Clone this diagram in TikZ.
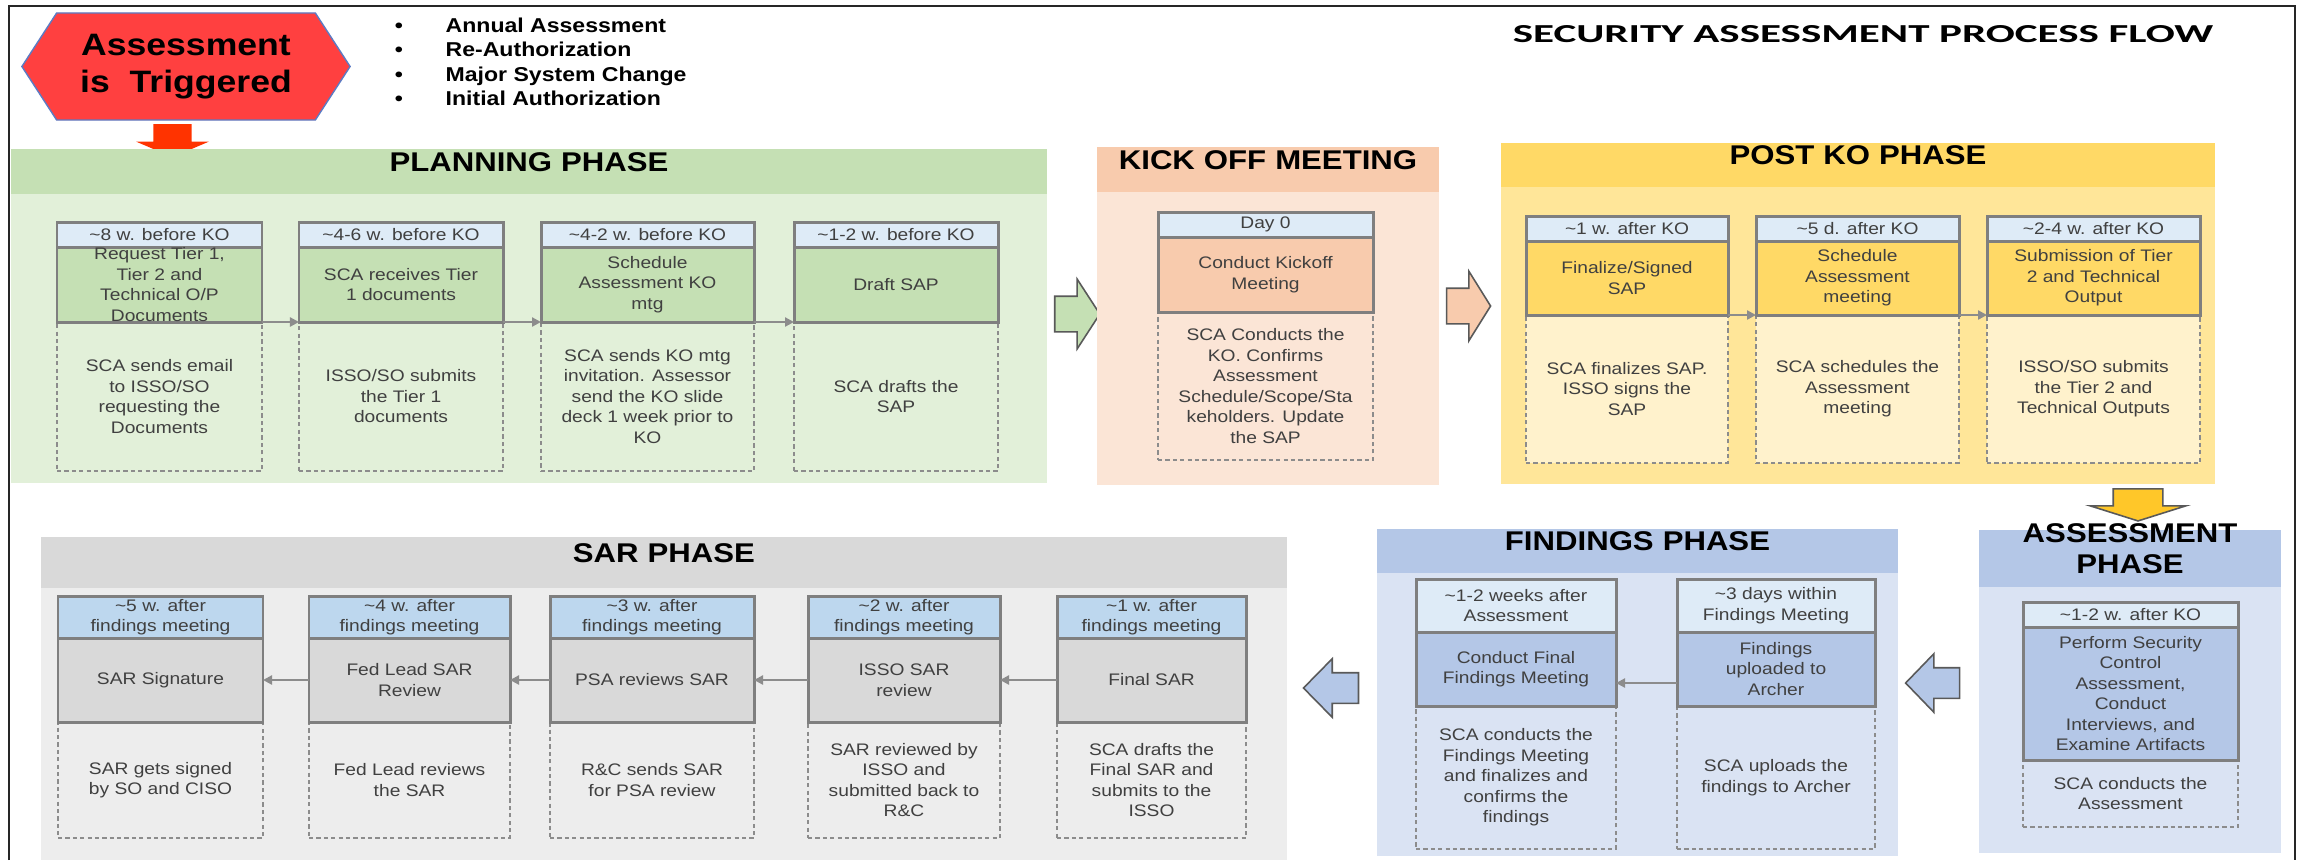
\documentclass[tikz,border=0pt]{standalone}
\usepackage{fontspec}
\usepackage{graphicx}
\setmainfont{Liberation Sans}[FakeStretch=1.15]
\newfontfamily\titlefam{Carlito}
\usetikzlibrary{fit,shapes.arrows,shapes.symbols,arrows.meta}

\definecolor{plhead}{HTML}{C5E0B4}
\definecolor{plbody}{HTML}{E2F0D9}
\definecolor{kohead}{HTML}{F8CBAD}
\definecolor{kobody}{HTML}{FBE5D6}
\definecolor{pkhead}{HTML}{FFD966}
\definecolor{pkbody}{HTML}{FFE699}
\definecolor{pkdsc}{HTML}{FFF2CC}
\definecolor{fnhead}{HTML}{B4C7E7}
\definecolor{fnbody}{HTML}{DAE3F3}
\definecolor{sahead}{HTML}{D9D9D9}
\definecolor{sabody}{HTML}{EDEDED}
\definecolor{lblight}{HTML}{DEEBF7}
\definecolor{lblsar}{HTML}{BDD7EE}
\definecolor{boxgray}{HTML}{7F7F7F}
\definecolor{dashgray}{HTML}{8C8C8C}
\definecolor{txtgray}{HTML}{404040}
\definecolor{conngray}{HTML}{8C8C8C}
\definecolor{arrowgray}{HTML}{595959}
\definecolor{hexred}{HTML}{FF4040}
\definecolor{hexblue}{HTML}{5B7BC4}
\definecolor{redarrow}{HTML}{FF3300}
\definecolor{yelarrow}{HTML}{FFC729}
\definecolor{framec}{HTML}{262626}

\newcommand{\boxfont}{\fontsize{4.75pt}{5.83pt}\selectfont}
\newcommand{\hdrfont}{\bfseries\fontsize{7.7pt}{8.8pt}\selectfont}
\newcommand{\hexfont}{\bfseries\fontsize{8.8pt}{10.5pt}\selectfont}
\newcommand{\bulfont}{\bfseries\fontsize{5.7pt}{6.9pt}\selectfont}
\newcommand{\tl}{\textasciitilde}

\tikzset{
  panel/.style={inner sep=0pt, outer sep=0pt},
  hdrtxt/.style={font=\hdrfont, align=center, text=black},
  lblbox/.style={draw=boxgray, line width=0.85pt, inner sep=0pt, outer sep=0pt},
  ttlbox/.style={draw=boxgray, line width=0.85pt, inner sep=0pt, outer sep=0pt},
  dscbox/.style={draw=dashgray, line width=0.4pt, dash pattern=on 1.2pt off 0.9pt, inner sep=0pt, outer sep=0pt},
  boxtxt/.style={align=center, text=txtgray, font=\boxfont, inner sep=0pt},
  blockarrow/.style={single arrow, draw=arrowgray, line width=0.45pt, inner xsep=0pt},
  conn/.style={draw=conngray, line width=0.7pt, -{Triangle[length=0.09cm,width=0.09cm]}},
  bul/.style={font=\bulfont, inner sep=0pt, text=black},
}

\newcommand{\setrows}[4]{\def\rya{#1}\def\ryb{#2}\def\ryc{#3}\def\ryd{#4}}
\newcommand{\stepbox}[6]{%
  \node[dscbox, fill=dscc, fit={(#2,\ryc) (#3,\ryd)}] (#1d) {};
  \node[lblbox, fill=lblc, fit={(#2,\rya) (#3,\ryb)}] (#1l) {};
  \node[ttlbox, fill=ttlc, fit={(#2,\ryb) (#3,\ryc)}] (#1t) {};
  \node[boxtxt] (#1lx) at (#1l.center) {#4};
  \node[boxtxt] (#1tx) at (#1t.center) {#5};
  \node[boxtxt] (#1dx) at (#1d.center) {#6};
}

\begin{document}
\begin{tikzpicture}[x=0.01cm, y=-0.01cm]
\useasboundingbox (0,0) rectangle (2303,860);
\fill[white] (0,0) rectangle (2303,860);
\draw[framec, line width=0.6pt] (9,860) -- (9,6) -- (2295,6) -- (2295,860);

% trigger
\node[signal, signal to=east and west, signal pointer angle=114, minimum width=3.28cm, minimum height=1.07cm, inner sep=0pt, fill=hexred, draw=hexblue, line width=0.4pt] (trig) at (186,66.5) {};
\node[font=\hexfont, align=center, inner sep=0pt] (trigtx) at (trig.center) {Assessment\\is\ \ Triggered};
\node[single arrow, rotate=270, fill=redarrow, inner xsep=0pt, inner ysep=0.185cm, minimum height=0.33cm, single arrow head extend=0.17cm, single arrow tip angle=134] (trigarr) at (172.5,136.5) {};

% bullets
\node[bul, anchor=base] (bu1) at (399,32) {\textbullet};
\node[bul, anchor=base west] (bt1) at (445,32) {Annual Assessment};
\node[bul, anchor=base] (bu2) at (399,56.5) {\textbullet};
\node[bul, anchor=base west] (bt2) at (445,56.5) {Re-Authorization};
\node[bul, anchor=base] (bu3) at (399,81) {\textbullet};
\node[bul, anchor=base west] (bt3) at (445,81) {Major System Change};
\node[bul, anchor=base] (bu4) at (399,105.5) {\textbullet};
\node[bul, anchor=base west] (bt4) at (445,105.5) {Initial Authorization};

% title
\node[anchor=base, inner sep=0pt] (title) at (1863,42) {\resizebox{7cm}{0.17cm}{\titlefam\bfseries SECURITY ASSESSMENT PROCESS FLOW}};

% ---------- PLANNING ----------
\node[panel, fill=plbody, fit={(11,149) (1047,483)}] (plan) {};
\node[panel, fill=plhead, fit={(11,149) (1047,194)}, hdrtxt] (planh) {PLANNING PHASE};
\colorlet{lblc}{lblight}\colorlet{ttlc}{plhead}\colorlet{dscc}{plbody}
\setrows{222}{247}{322}{471}
\stepbox{pa}{57}{262}{\tl 8 w. before KO}{Request Tier 1,\\Tier 2 and\\Technical O/P\\Documents}{SCA sends email\\to ISSO/SO\\requesting the\\Documents}
\stepbox{pb}{299}{503}{\tl 4-6 w. before KO}{SCA receives Tier\\1 documents}{ISSO/SO submits\\the Tier 1\\documents}
\stepbox{pc}{541}{754}{\tl 4-2 w. before KO}{Schedule\\Assessment KO\\mtg}{SCA sends KO mtg\\invitation. Assessor\\send the KO slide\\deck 1 week prior to\\KO}
\stepbox{pd}{794}{998}{\tl 1-2 w. before KO}{Draft SAP}{SCA drafts the\\SAP}
\draw[conn] (pat.south east) -- (pbt.south west);
\draw[conn] (pbt.south east) -- (pct.south west);
\draw[conn] (pct.south east) -- (pdt.south west);

\node[blockarrow, fill=plhead, inner ysep=0.17cm, minimum height=0.45cm, single arrow head extend=0.17cm, single arrow tip angle=114] (arr1) at (1071.5,314) {};

% ---------- KICK OFF ----------
\node[panel, fill=kobody, fit={(1097,147) (1439,485)}] (kick) {};
\node[panel, fill=kohead, fit={(1097,147) (1439,192)}, hdrtxt] (kickh) {KICK OFF MEETING};
\colorlet{lblc}{lblight}\colorlet{ttlc}{kohead}\colorlet{dscc}{kobody}
\setrows{212}{237}{312}{460}
\stepbox{ka}{1158}{1373}{Day 0}{Conduct Kickoff\\Meeting}{SCA Conducts the\\KO. Confirms\\Assessment\\Schedule/Scope/Sta\\keholders. Update\\the SAP}

\node[blockarrow, fill=kohead, inner ysep=0.17cm, minimum height=0.44cm, single arrow head extend=0.17cm, single arrow tip angle=116] (arr2) at (1463,306) {};

% ---------- POST KO ----------
\node[panel, fill=pkbody, fit={(1501,143) (2215,484)}] (post) {};
\node[panel, fill=pkhead, fit={(1501,143) (2215,187)}, hdrtxt] (posth) {POST KO PHASE};
\colorlet{lblc}{lblight}\colorlet{ttlc}{pkhead}\colorlet{dscc}{pkdsc}
\setrows{216}{241}{315}{463}
\stepbox{qa}{1526}{1728}{\tl 1 w. after KO}{Finalize/Signed\\SAP}{SCA finalizes SAP.\\ISSO signs the\\SAP}
\stepbox{qb}{1756}{1959}{\tl 5 d. after KO}{Schedule\\Assessment\\meeting}{SCA schedules the\\Assessment\\meeting}
\stepbox{qc}{1987}{2200}{\tl 2-4 w. after KO}{Submission of Tier\\2 and Technical\\Output}{ISSO/SO submits\\the Tier 2 and\\Technical Outputs}
\draw[conn] (qat.south east) -- (qbt.south west);
\draw[conn] (qbt.south east) -- (qct.south west);

\node[blockarrow, fill=yelarrow, rotate=270, inner ysep=0.24cm, minimum height=0.32cm, single arrow head extend=0.23cm, single arrow tip angle=145] (arr3) at (2138,501) {};

% ---------- ASSESSMENT ----------
\node[panel, fill=fnbody, fit={(1979,530) (2281,853)}] (asse) {};
\node[panel, fill=fnhead, fit={(1979,530) (2281,587)}, hdrtxt] (asseh) {ASSESSMENT\\PHASE};
\colorlet{lblc}{lblight}\colorlet{ttlc}{fnhead}\colorlet{dscc}{fnbody}
\setrows{602}{627}{760}{827}
\stepbox{aa}{2023}{2238}{\tl 1-2 w. after KO}{Perform Security\\Control\\Assessment,\\Conduct\\Interviews, and\\Examine Artifacts}{SCA conducts the\\Assessment}

\node[blockarrow, fill=fnhead, rotate=180, inner ysep=0.145cm, minimum height=0.54cm, single arrow head extend=0.14cm, single arrow tip angle=92] (arr4) at (1940,683) {};

% ---------- FINDINGS ----------
\node[panel, fill=fnbody, fit={(1377,529) (1898,856)}] (find) {};
\node[panel, fill=fnhead, fit={(1377,529) (1898,573)}, hdrtxt] (findh) {FINDINGS PHASE};
\colorlet{lblc}{lblight}\colorlet{ttlc}{fnhead}\colorlet{dscc}{fnbody}
\setrows{579}{632}{706}{849}
\stepbox{fa}{1416}{1616}{\tl 1-2 weeks after\\Assessment}{Conduct Final\\Findings Meeting}{SCA conducts the\\Findings Meeting\\and finalizes and\\confirms the\\findings}
\stepbox{fb}{1677}{1875}{\tl 3 days within\\Findings Meeting}{Findings\\uploaded to\\Archer}{SCA uploads the\\findings to Archer}
\draw[conn] ([yshift=-0.14cm]fbt.west) -- ([yshift=-0.14cm]fat.east);

\node[blockarrow, fill=fnhead, rotate=180, inner ysep=0.145cm, minimum height=0.55cm, single arrow head extend=0.14cm, single arrow tip angle=91] (arr5) at (1338.5,688) {};

% ---------- SAR ----------
\node[panel, fill=sabody, fit={(41,537) (1287,860)}] (sar) {};
\node[panel, fill=sahead, fit={(41,537) (1287,588)}, hdrtxt] (sarh) {SAR PHASE};
\colorlet{lblc}{lblsar}\colorlet{ttlc}{sahead}\colorlet{dscc}{sabody}
\setrows{596}{638}{722}{838}
\stepbox{sa}{58}{263}{\tl 5 w. after\\findings meeting}{SAR Signature}{SAR gets signed\\by SO and CISO}
\stepbox{sb}{309}{510}{\tl 4 w. after\\findings meeting}{Fed Lead SAR\\Review}{Fed Lead reviews\\the SAR}
\stepbox{sc}{550}{754}{\tl 3 w. after\\findings meeting}{PSA reviews SAR}{R\&C sends SAR\\for PSA review}
\stepbox{sd}{808}{1000}{\tl 2 w. after\\findings meeting}{ISSO SAR\\review}{SAR reviewed by\\ISSO and\\submitted back to\\R\&C}
\stepbox{se}{1057}{1246}{\tl 1 w. after\\findings meeting}{Final SAR}{SCA drafts the\\Final SAR and\\submits to the\\ISSO}
\draw[conn] (set.west) -- (sdt.east);
\draw[conn] (sdt.west) -- (sct.east);
\draw[conn] (sct.west) -- (sbt.east);
\draw[conn] (sbt.west) -- (sat.east);
\end{tikzpicture}
\end{document}
